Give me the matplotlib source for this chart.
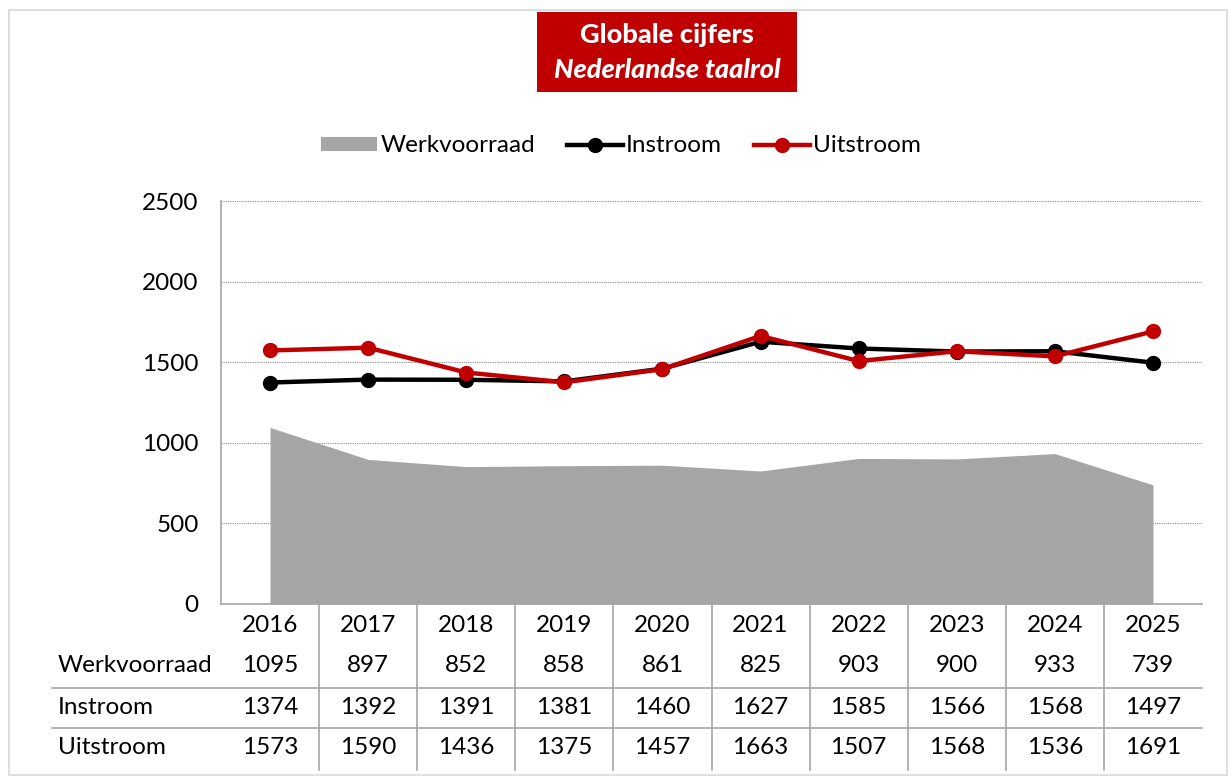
import matplotlib.pyplot as plt
from matplotlib.patches import Rectangle, Patch
from matplotlib.lines import Line2D

plt.rcParams['font.family'] = ['Lato', 'DejaVu Sans']

years = ['2016', '2017', '2018', '2019', '2020', '2021', '2022', '2023', '2024', '2025']
werkvoorraad = [1095, 897, 852, 858, 861, 825, 903, 900, 933, 739]
instroom = [1374, 1392, 1391, 1381, 1460, 1627, 1585, 1566, 1568, 1497]
uitstroom = [1573, 1590, 1436, 1375, 1457, 1663, 1507, 1568, 1536, 1691]
row_names = ['Werkvoorraad', 'Instroom', 'Uitstroom']

W, H = 1229, 776
RED = '#C00000'
GRAY = '#A5A5A5'
LINE = '#A6A6A6'
FS = 17.5

fig = plt.figure(figsize=(W / 100, H / 100), dpi=100)

def fx(px):
    return px / W

def fy(py):
    return 1 - py / H

# chart border
fig.patches.append(Rectangle((fx(9), fy(775)), fx(1227) - fx(9), fy(10) - fy(775),
                             transform=fig.transFigure, fill=False, edgecolor='#D9D9D9', lw=1.2))

left, right, top, bottom = 221, 1202, 201, 604
ax = fig.add_axes([fx(left), fy(bottom), fx(right) - fx(left), fy(top) - fy(bottom)])

x = list(range(len(years)))
ax.fill_between(x, werkvoorraad, 0, color=GRAY, lw=0, zorder=1)
ax.plot(x, instroom, color='black', lw=3.2, marker='o', ms=10, zorder=3)
ax.plot(x, uitstroom, color=RED, lw=3.2, marker='o', ms=10, zorder=4)

ax.set_xlim(-0.5, len(years) - 0.5)
ax.set_ylim(0, 2500)
ax.set_yticks([0, 500, 1000, 1500, 2000, 2500])
ax.set_xticks([])
ax.tick_params(axis='y', length=0, pad=16, labelsize=FS)
ax.yaxis.grid(True, linestyle=(0, (1, 1)), color='#8C8C8C', lw=0.8)
ax.set_axisbelow(True)
for s in ['top', 'right']:
    ax.spines[s].set_visible(False)
ax.spines['left'].set_color(LINE)
ax.spines['bottom'].set_color(LINE)
ax.spines['left'].set_linewidth(1.2)
ax.spines['bottom'].set_linewidth(1.2)

# data table below the axis
colw = (right - left) / len(years)
for k in range(1, len(years)):
    xp = left + k * colw
    fig.add_artist(Line2D([fx(xp), fx(xp)], [fy(bottom), fy(770)], color=LINE, lw=1.2))
for yp in [688, 728]:
    fig.add_artist(Line2D([fx(52), fx(right)], [fy(yp), fy(yp)], color=LINE, lw=1.2))

for i, yr in enumerate(years):
    fig.text(fx(left + (i + 0.5) * colw), fy(626), yr, ha='center', va='center', fontsize=FS)

rows = [werkvoorraad, instroom, uitstroom]
row_y = [666, 707, 748]
for name, vals, yp in zip(row_names, rows, row_y):
    fig.text(fx(58), fy(yp), name, ha='left', va='center', fontsize=FS)
    for i, v in enumerate(vals):
        fig.text(fx(left + (i + 0.5) * colw), fy(yp), str(v), ha='center', va='center', fontsize=FS)

# title box
fig.patches.append(Rectangle((fx(537), fy(92)), fx(797) - fx(537), fy(12) - fy(92),
                             transform=fig.transFigure, color=RED, lw=0))
fig.text(fx(667), fy(35), 'Globale cijfers', ha='center', va='center', color='white',
         fontsize=19.5, fontweight='black')
fig.text(fx(667), fy(70), 'Nederlandse taalrol', ha='center', va='center', color='white',
         fontsize=19.5, fontweight='black', fontstyle='italic')

handles = [Patch(facecolor=GRAY, edgecolor='none'),
           Line2D([], [], color='black', lw=3.2, marker='o', ms=10),
           Line2D([], [], color=RED, lw=3.2, marker='o', ms=10)]
fig.legend(handles, row_names, loc='center', bbox_to_anchor=(fx(621), fy(146)), ncol=3,
           frameon=False, fontsize=FS, handlelength=2.3, handletextpad=0.15, columnspacing=1.3,
           handleheight=0.5)

fig.savefig('out.png', dpi=100)
